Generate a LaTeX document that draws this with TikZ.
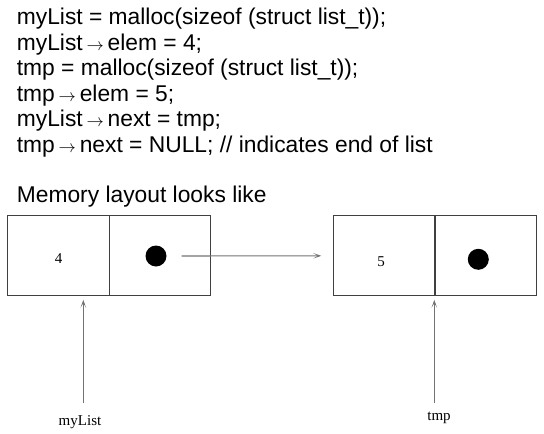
\documentclass[tikz,border=0pt]{standalone}
\usepackage{fontspec}
\setmainfont{Liberation Serif}
\newfontfamily\codefont{Liberation Sans}
\usetikzlibrary{arrows.meta}
\newcommand\arr{\,$\scriptstyle\rightarrow$\,}

\begin{document}
\begin{tikzpicture}[x=1pt,y=-1pt,>={Stealth[length=8pt,width=5.5pt,inset=4.5pt]},
        code/.style={anchor=base west,inner sep=0pt,font=\codefont\fontsize{22.8}{25}\selectfont},
        cell/.style={draw=black!75,line width=1pt,minimum width=101.7pt,minimum height=79.7pt,inner sep=0pt},
        val/.style={inner sep=0pt,font=\fontsize{15}{15}\selectfont},
        dot/.style={circle,fill=black,inner sep=0pt,minimum size=21pt},
        ptr/.style={->,draw=black!55,line width=1.1pt}]
                \useasboundingbox (0,0) rectangle (544,434);

                \node[code] (line1) at(16.7,24.7) {myList = malloc(sizeof (struct list\_t));};
                \node[code] (line2) at(16.7,50.2) {myList\arr elem = 4;};
                \node[code] (line3) at(16.7,75.7) {tmp = malloc(sizeof (struct list\_t));};
                \node[code] (line4) at(16.7,101.2) {tmp\arr elem = 5;};
                \node[code] (line5) at(16.7,126.7) {myList\arr next = tmp;};
                \node[code] (line6) at(16.7,152.2) {tmp\arr next = NULL; // indicates end of list};
                \node[code] (heading) at(16.7,202.3) {Memory layout looks like};

                \node[cell] (c1) at(58.2,255.8) {};
                \node[cell] (c2) at(159.9,255.8) {};
                \node[cell] (c3) at(384.2,255.8) {};
                \node[cell] (c4) at(485.5,255.8) {};

                \node[val] (v1) at(58.7,259) {4};
                \node[val] (v2) at(381,262) {5};

                \node[dot] (d1) at(156,256) {};
                \node[dot] (d2) at(478.3,259.3) {};
                \draw[ptr,shorten <=15pt,shorten >=11.6pt] (d1.east) -- (c3.west);

                \node[val] (l1) at(80,421.7) {myList};
                \node[val] (l2) at(439,418) {tmp};
                \coordinate (p1) at(83.3,403);
                \coordinate (p2) at(434.3,403);
                \draw[ptr,shorten >=3.6pt] (p1) -- (p1 |- c1.south);
                \draw[ptr,shorten >=3.6pt] (p2) -- (p2 |- c3.south);
            \end{tikzpicture}
\end{document}
